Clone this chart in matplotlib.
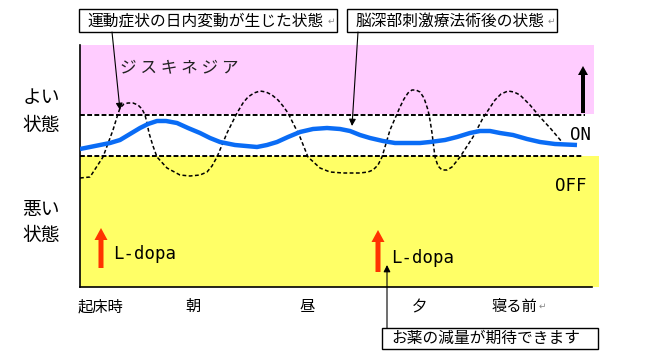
import matplotlib
matplotlib.use("Agg")
import matplotlib.pyplot as plt
from matplotlib.patches import Rectangle
from matplotlib.transforms import IdentityTransform

plt.rcParams['font.family'] = ['Noto Sans CJK JP', 'DejaVu Sans']

# ---- data (time axis units, state-level units) ----
tick_labels = ['起床時', '朝', '昼', '夕', '寝る前']
tick_pos = [20, 113, 227, 339, 434]

# DBS (after surgery) state - blue
dbs_t = [0, 10, 20, 30, 40, 50, 60, 68, 77, 86, 97, 108, 120, 130, 140, 155, 177,
         187, 197, 208, 220, 233, 247, 260, 270, 280, 290, 303, 315, 327, 340,
         350, 365, 377, 390, 400, 410, 420, 433, 447, 460, 475, 497]
dbs_v = [138, 140, 142, 144, 147, 153, 159, 163, 166, 166, 164, 159, 154, 149,
         145, 142, 140, 142, 145, 150, 155, 158, 159, 158, 156, 152, 149, 146,
         144, 144, 144, 145, 147, 150, 154, 156, 156, 154, 152, 148, 145, 143, 142]

# motor fluctuation - dashed
fl_t = [0, 10, 23, 33, 37, 40, 44, 48, 53, 58, 62, 65, 67, 69, 73, 77, 87, 100,
        110, 120, 127, 132, 137, 147, 157, 163, 168, 174, 180, 186, 192, 198,
        203, 208, 214, 220, 228, 240, 250, 263, 280, 288, 293, 298, 302, 310,
        320, 324, 328, 332, 336, 340, 344, 348, 350, 352, 355, 358, 362, 367,
        372, 380, 393, 403, 415, 421, 428, 434, 440, 450, 460, 471, 482]
fl_v = [109, 110, 130, 157, 170, 179, 183, 184, 184, 182, 178, 172, 164, 154,
        141, 130, 119, 112, 111, 112, 115, 121, 130, 154, 174, 184, 190, 194,
        196, 195, 192, 187, 181, 174, 162, 150, 130, 119, 115, 114, 114, 115,
        117, 122, 130, 157, 180, 188, 194, 197, 197, 195, 189, 177, 167, 154,
        130, 121, 117, 117, 120, 130, 150, 169, 187, 193, 196, 195, 192, 182,
        170, 158, 145]

good_lo, good_hi = 173, 242     # dyskinesia band
bad_lo, bad_hi = 0, 131         # OFF band
on_upper, on_lower = 172.5, 131

dose_t = [21, 298]
dose_from = [19, 15]
dose_to = [59, 57]

fig = plt.figure(figsize=(6.49, 3.60), dpi=100)
W, H = 649, 360
ax = fig.add_axes([80 / W, (360 - 287) / H, 520 / W, 242 / H])
ax.set_xlim(0, 520)
ax.set_ylim(0, 242)

ax.add_patch(Rectangle((0, good_lo), 514, good_hi - good_lo, color='#FFCCFF', lw=0, zorder=0))
ax.add_patch(Rectangle((0, bad_lo), 519, bad_hi - bad_lo, color='#FFFF66', lw=0, zorder=0))

ax.plot([0, 505], [on_upper, on_upper], color='black', lw=1.4, ls=(0, (2.5, 1.2)), zorder=2)
ax.plot([0, 502], [on_lower, on_lower], color='black', lw=1.4, ls=(0, (2.5, 1.2)), zorder=2)

ax.plot(fl_t, fl_v, color='black', lw=1.1, ls=(0, (2.5, 1.6)), zorder=3)
ax.plot(dbs_t, dbs_v, color='#0A6CF5', lw=3.2, solid_capstyle='butt',
        solid_joinstyle='round', zorder=4)

# black up arrow (dyskinesia)
ax.arrow(503, 174, 0, 47, width=4, head_width=10, head_length=9,
         length_includes_head=True, color='black', lw=0, zorder=5)

# L-dopa arrows
for t, a, b in zip(dose_t, dose_from, dose_to):
    ax.arrow(t, a, 0, b - a, width=5, head_width=13, head_length=12,
             length_includes_head=True, color='#FF3300', lw=0, zorder=5)
ax.text(33, 33, 'L-dopa', family='DejaVu Sans Mono', fontsize=12.5, va='center', ha='left')
ax.text(311, 29, 'L-dopa', family='DejaVu Sans Mono', fontsize=12.5, va='center', ha='left')

ax.text(40, 219, 'ジ ス キ ネ ジ ア', fontsize=12, va='center', ha='left', color='#222222')
ax.text(490, 152, 'ON', family='DejaVu Sans Mono', fontsize=12.5, va='center', ha='left')
ax.text(475, 101, 'OFF', family='DejaVu Sans Mono', fontsize=12.5, va='center', ha='left')

for s in ['top', 'right']:
    ax.spines[s].set_visible(False)
ax.spines['left'].set_linewidth(1.2)
ax.spines['bottom'].set_linewidth(1.2)
ax.spines['bottom'].set_bounds(0, 512)
ax.set_yticks([])
ax.set_xticks(tick_pos, tick_labels, fontsize=11)
ax.tick_params(axis='x', length=0, pad=8)

px = IdentityTransform()
# left labels
for txt, y in [('よい', 97), ('状態', 125), ('悪い', 210), ('状態', 236)]:
    fig.text(41, H - y, txt, fontsize=13.5, ha='center', va='center', transform=px)

# callout boxes
boxes = [((79, H - 32), 258, 23), ((347, H - 32), 210, 23), ((382, H - 349), 216, 21)]
for (xy, w, h) in boxes:
    fig.add_artist(Rectangle(xy, w, h, transform=px, fill=False, ec='black', lw=1.0))
fig.text(87, H - 21, '運動症状の日内変動が生じた状態', fontsize=11.3, ha='left', va='center', transform=px)
fig.text(356, H - 21, '脳深部刺激療法術後の状態', fontsize=11.3, ha='left', va='center', transform=px)
fig.text(391, H - 338, 'お薬の減量が期待できます', fontsize=11.3, ha='left', va='center', transform=px)
for x, y in [(328, 21), (548, 21), (539, 306)]:
    fig.text(x, H - y, '↵', family='DejaVu Sans', fontsize=6.5, color='#888888',
             ha='left', va='center', transform=px)

# callout pointers
arrow_kw = dict(arrowstyle='-|>', color='black', lw=0.8, shrinkA=0, shrinkB=0, mutation_scale=10)
ax.annotate('', xy=(40, 177), xytext=(112, H - 32), textcoords=px, arrowprops=arrow_kw)
ax.annotate('', xy=(272, 161), xytext=(358, H - 32), textcoords=px, arrowprops=arrow_kw)
ax.annotate('', xy=(307, 22), xytext=(387, H - 328), textcoords=px, arrowprops=arrow_kw,
            annotation_clip=False)

fig.savefig('out.png', dpi=100)
